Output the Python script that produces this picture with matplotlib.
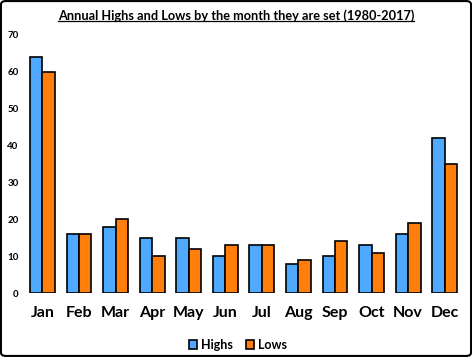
import matplotlib.pyplot as plt
import numpy as np
from matplotlib.patches import FancyBboxPatch

# Data
months = ['Jan', 'Feb', 'Mar', 'Apr', 'May', 'Jun', 'Jul', 'Aug', 'Sep', 'Oct', 'Nov', 'Dec']
highs = [64, 16, 18, 15, 15, 10, 13, 8, 10, 13, 16, 42]
lows = [60, 16, 20, 10, 12, 13, 13, 9, 14, 11, 19, 35]

plt.rcParams['font.family'] = ['Lato', 'DejaVu Sans']

fig = plt.figure(figsize=(4.72, 3.57), dpi=100)
ax = fig.add_axes([0.051, 0.179, 0.93, 0.723])

x = np.arange(len(months))
w = 0.34
ax.bar(x - w / 2, highs, w, color='#4FA9FF', edgecolor='black', linewidth=1.2, label='Highs')
ax.bar(x + w / 2, lows, w, color='#FF7F0A', edgecolor='black', linewidth=1.2, label='Lows')

ax.set_xlim(-0.5, 11.5)
ax.set_ylim(0, 70)
ax.set_yticks(range(0, 71, 10))
ax.set_xticks(x)
ax.set_xticklabels(months, fontsize=11.5, fontweight='bold')
for t in ax.get_yticklabels():
    t.set_fontsize(7)
    t.set_fontweight('bold')
ax.tick_params(axis='both', length=0)
ax.tick_params(axis='x', pad=9)
ax.tick_params(axis='y', pad=4)
for s in ax.spines.values():
    s.set_visible(False)

title = fig.text(0.5, 0.955, 'Annual Highs and Lows by the month they are set (1980-2017)',
                 ha='center', va='center', fontsize=9.2, fontweight='bold')

ax.legend(loc='center', bbox_to_anchor=(0.487, -0.2), ncol=2, frameon=False,
          prop={'weight': 'bold', 'size': 9}, handlelength=0.7, handleheight=0.7,
          handletextpad=0.3, columnspacing=1.0)

# underline the title using its drawn extent
fig.canvas.draw()
bb = title.get_window_extent().transformed(fig.transFigure.inverted())
fig.add_artist(plt.Line2D([bb.x0, bb.x1], [bb.y0 + 0.004, bb.y0 + 0.004], color='black', lw=0.9))

# frame around the whole chart
fig.add_artist(FancyBboxPatch((0.002, 0.003), 0.996, 0.994, boxstyle='round,pad=0,rounding_size=0.01',
                              transform=fig.transFigure, fill=False, edgecolor='black', linewidth=1.5))

fig.savefig('out.png', dpi=100)
